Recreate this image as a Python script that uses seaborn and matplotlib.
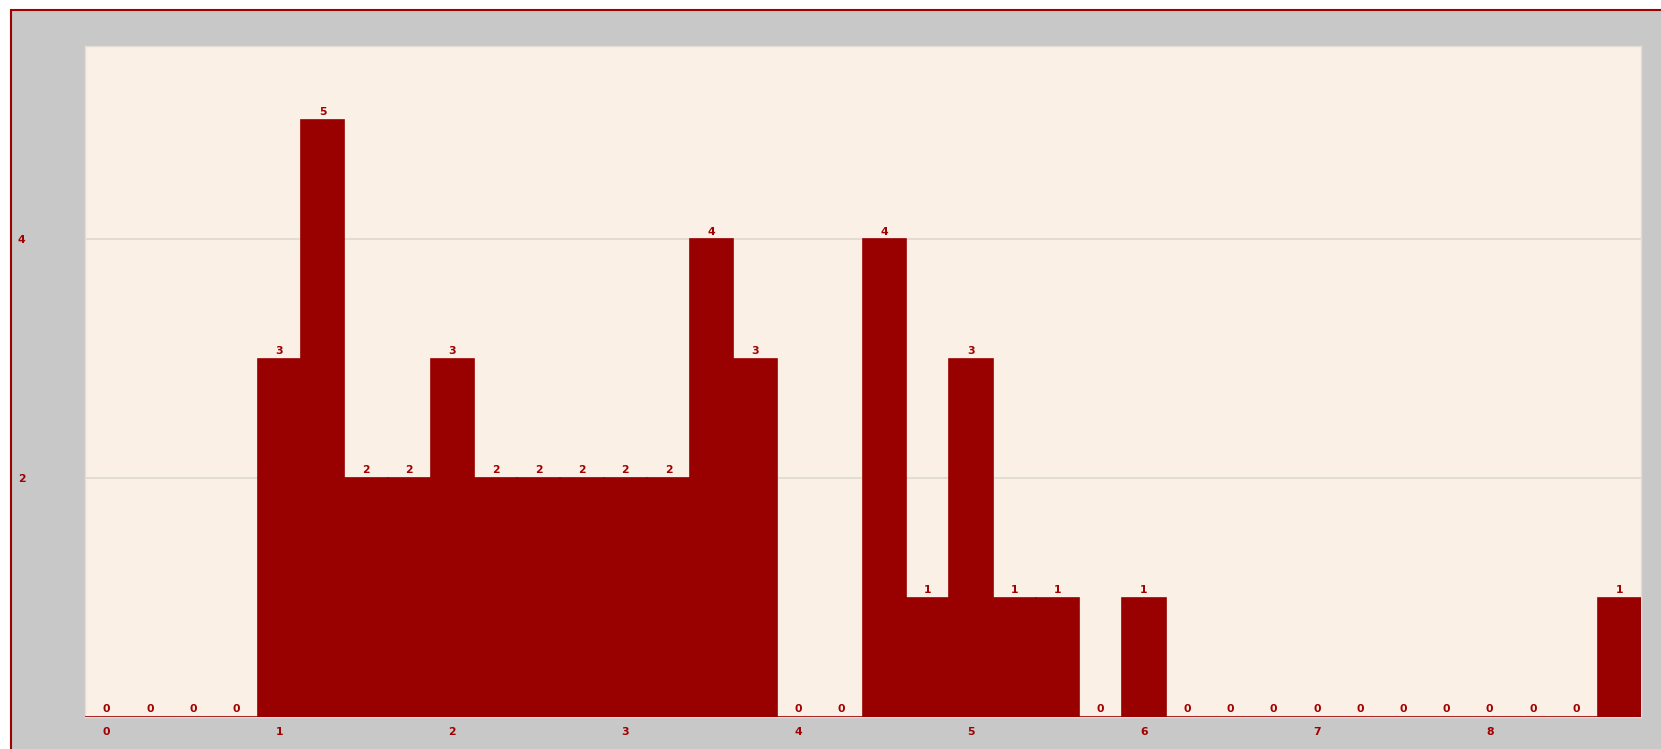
import seaborn as sns
import matplotlib.pyplot as plt
from matplotlib.patches import Rectangle

# bin centres (width 0.25) and counts
bin_centers = [i * 0.25 for i in range(36)]
counts = [0, 0, 0, 0, 3, 5, 2, 2, 3, 2, 2, 2, 2, 2, 4, 3, 0, 0,
          4, 1, 3, 1, 1, 0, 1, 0, 0, 0, 0, 0, 0, 0, 0, 0, 0, 1]
x_ticks = [0, 1, 2, 3, 4, 5, 6, 7, 8]
y_ticks = [2, 4]

bar_red = "#990000"
text_red = "#a00000"

sns.set_style("white")
plt.rcParams['font.family'] = ['DejaVu Sans']

fig = plt.figure(figsize=(16.61, 7.49), dpi=100)
fig.patch.set_facecolor("white")
# grey panel with dark red border on top/left
fig.patches.append(Rectangle((11 / 1661, -0.05), 1.1, 1.05 - 10 / 749,
                             transform=fig.transFigure, facecolor="#c8c8c8",
                             edgecolor="#a00000", linewidth=1.5, zorder=-10))

ax = fig.add_axes([85 / 1661, 32 / 749, 1556 / 1661, 671 / 749])
ax.set_zorder(1)
ax.set_facecolor("#faf0e6")

sns.barplot(x=bin_centers, y=counts, native_scale=True, width=1.0,
            color=bar_red, saturation=1, edgecolor=bar_red, linewidth=1.2,
            ax=ax, zorder=3)

for c in ax.containers:
    ax.bar_label(c, labels=[str(v) for v in counts], padding=2,
                 fontsize=7.8, fontweight="bold", color=text_red)

ax.set_xlim(-0.125, 8.875)
ax.set_ylim(0, 5.62)
ax.set_xticks(x_ticks)
ax.set_xticklabels([str(t) for t in x_ticks])
ax.set_yticks(y_ticks)
ax.set_yticklabels([str(t) for t in y_ticks])
ax.grid(axis="y", color="#e2dcd4", linewidth=1.5, zorder=0)
ax.set_axisbelow(True)
ax.tick_params(axis="x", length=0, pad=7, labelsize=7.8, labelcolor=text_red)
ax.tick_params(axis="y", length=0, pad=43, labelsize=7.8, labelcolor=text_red)
for lab in ax.get_xticklabels() + ax.get_yticklabels():
    lab.set_fontweight("bold")
for s in ax.spines.values():
    s.set_color("#e4ddd5")
    s.set_linewidth(1)
ax.set_xlabel("")
ax.set_ylabel("")

fig.savefig("out.png", dpi=100, facecolor=fig.get_facecolor())
